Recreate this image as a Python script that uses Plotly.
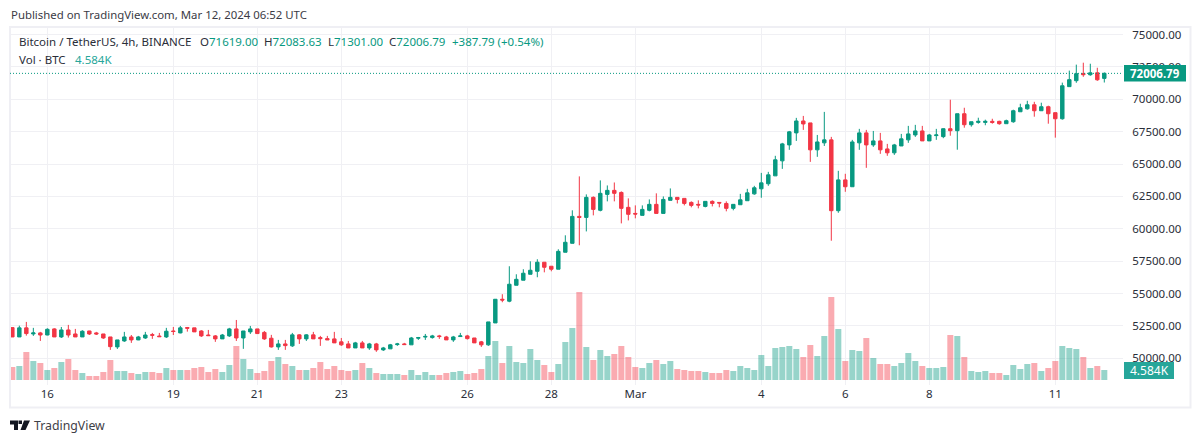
import pandas as pd
import plotly.graph_objects as go

opens = [52370,51650,52350,51880,51960,51800,52270,51650,52190,51880,51650,52110,51960,51880,51650,50880,51340,51650,51420,51570,
 51830,51720,51650,52110,51960,52380,52350,52110,51800,51730,51500,51730,52270,51570,52040,52270,52000,51550,50880,51110,
 50960,51810,51500,51810,51600,51520,51500,51270,51110,50800,51190,50800,51110,50650,50730,51060,51110,51040,51550,51640,
 51600,51730,51650,51420,51680,51730,51570,51270,51040,52730,54560,54410,55640,56030,56490,56720,57420,57110,56880,58190,
 58880,60960,60880,62430,61430,62660,62970,62810,61660,61190,61040,61430,61890,61190,62200,62430,62350,62040,61890,61730,
 62120,62040,61960,61580,61860,62170,62700,63090,63480,64090,65250,66480,67410,68330,68180,66100,66640,66870,61400,63780,
 63250,66640,67410,66480,66790,66170,65870,66400,66870,67250,67560,66790,67200,67120,67730,67580,68890,68040,68220,68220,
 68300,68300,68120,68270,69040,69270,69580,69120,69430,68970,68500,70980,71440,72000,71900,72050,71619]
highs = [52370,52520,52810,52350,52040,52320,52320,52420,52580,52270,52170,52120,52040,51880,51650,51420,52040,51800,51730,52040,
 51960,51960,52350,52420,52500,52420,52350,52170,52190,51800,51880,52350,52960,52110,52500,52270,52110,51810,51420,51420,
 51960,51860,51860,52040,51730,51730,52040,51570,51340,51270,51340,51190,51190,50880,51110,51190,51190,51650,51650,51880,
 51810,51810,51730,51730,51960,51810,51570,51340,52810,54580,54950,57110,56490,56880,57490,57650,57420,57110,58420,59500,
 61430,64050,62660,62500,63740,63350,63580,62890,62350,61810,61810,62270,62740,62500,63120,62430,62350,62120,62200,62120,
 62200,62040,62120,61890,62700,63090,63320,64320,64400,65640,66640,67560,68570,68720,68180,67250,69030,67100,64480,64250,
 66870,67720,67640,67560,67410,66560,66560,67330,67950,68030,67950,67330,67720,67760,69970,68890,69350,68270,68580,68430,
 68500,68350,68430,69200,69660,69890,69810,69740,69510,68970,71290,72220,72680,72830,72750,72440,72083.63]
lows = [51650,51650,51750,51730,51340,51780,51650,51570,51600,51650,51650,51800,51800,51500,50650,50720,51270,51190,51400,51500,
 51500,51650,51570,51800,51930,52060,52040,51650,51750,51270,51500,51650,51340,50730,51880,51880,51420,50830,50650,50650,
 50880,51110,51340,51500,50960,51420,51190,50960,50800,50800,50800,50650,50500,50570,50730,50960,51040,51040,51420,51420,
 51520,51500,51420,51270,51650,51450,51190,50880,50960,52730,54330,54330,55640,56030,56490,56260,56640,56720,56880,58190,
 58880,58730,59800,61040,61350,62120,62120,60420,60650,60810,61040,61350,61190,61190,62200,61960,61810,61660,61580,61660,
 61730,61660,61350,61430,61860,62170,62630,62400,63320,64090,64630,66100,66790,67640,65170,65560,66400,59080,61240,62860,
 63250,66100,64710,66330,65790,65640,65710,66400,66640,67100,66790,66790,66870,67000,67190,66110,67810,67890,68120,68000,
 68120,68040,68120,68190,69040,69200,68660,69120,68120,67040,68430,70980,71280,71740,71820,71430,71301]
closes = [51650,52350,51910,51960,51800,52240,51650,52190,51800,51650,52090,51880,51880,51570,50900,51420,51650,51420,51650,51800,
 51780,51670,52090,52070,52350,52320,52040,51730,51750,51500,51800,52270,51570,52110,52270,51910,51500,50880,51110,50980,
 51810,51500,51810,51500,51520,51420,51190,51040,50800,51190,50800,51110,50650,50800,51040,51110,51060,51570,51600,51690,
 51730,51680,51420,51650,51730,51520,51190,51040,52810,54560,54500,55720,56100,56570,56800,57420,57030,56880,58260,58960,
 60960,60880,62430,61500,62740,62970,62740,61580,61120,61140,61500,61890,61190,62270,62430,62270,61960,61810,61840,62120,
 61960,61990,61580,61890,62240,62780,63170,63550,64170,65330,66560,67490,68330,68100,66100,66710,66870,61400,63780,63250,
 66710,67410,66480,66790,66100,65870,66480,66950,67330,67560,66790,67250,67250,67730,67580,68890,68040,68270,68300,68300,
 68220,68120,68350,69120,69350,69580,69120,69430,68890,68500,71050,71520,71980,71900,72050,71510,72006.79]
volumes_k = [5.96,6.42,12.84,8.71,7.79,4.58,5.50,8.25,9.63,4.58,3.21,1.83,1.83,3.67,9.17,4.13,4.13,3.21,2.75,3.67,
 3.67,3.21,5.50,4.58,4.58,4.58,5.50,5.96,3.67,5.04,3.67,6.88,15.59,9.63,5.04,3.21,4.13,8.71,10.54,7.33,
 6.42,4.58,4.58,5.50,8.25,5.04,6.42,4.58,4.13,4.58,7.79,5.50,3.21,2.75,2.75,2.75,2.29,4.58,2.29,3.67,
 2.29,2.29,3.21,3.67,4.13,2.75,3.21,5.04,11.0,17.88,7.79,15.59,8.25,7.79,14.21,9.17,6.88,3.67,7.33,17.42,
 23.84,40.34,15.13,9.17,13.75,11.0,11.92,15.59,10.54,5.96,5.50,7.79,9.17,7.33,8.71,5.04,4.58,4.13,4.13,3.67,
 3.21,3.21,4.58,4.13,6.42,5.50,4.58,11.46,6.42,14.67,15.13,15.59,14.21,10.54,16.04,11.0,20.17,38.05,23.38,8.71,
 13.75,13.29,19.25,10.08,7.33,7.33,6.42,7.79,12.38,8.71,6.42,5.50,5.50,5.96,20.63,20.17,10.54,4.13,3.67,4.13,
 3.21,3.21,2.29,6.88,5.04,7.33,7.79,4.13,5.50,8.71,15.59,14.67,14.21,10.54,5.50,6.42,4.584]
dates = pd.date_range("2024-02-15 04:00", periods=len(closes), freq="4h")

price_ticks = [75000,72500,70000,67500,65000,62500,60000,57500,55000,52500,50000]
price_tick_text = [f"{p}.00" for p in price_ticks]
date_ticks = ["2024-02-16","2024-02-19","2024-02-21","2024-02-23","2024-02-26","2024-02-28",
              "2024-03-01","2024-03-04","2024-03-06","2024-03-08","2024-03-11"]
date_tick_text = ["16","19","21","23","26","28","Mar","4","6","8","11"]
last_price = 72006.79
last_volume = 4.584

UP, DOWN = "#089981", "#F23645"
UP_V, DOWN_V = "rgba(8,153,129,0.42)", "rgba(242,54,69,0.42)"
GRID = "#F0F0F4"
FRAME = "#EFEFF4"
FONT = "Noto Sans"
W, H = 1200, 443
L, R, T, B = 10, 77, 28, 58

def px(x): return (x - L) / (W - L - R)
def py(y): return 1 - (y - T) / (H - T - B)

fig = go.Figure()
fig.add_bar(x=dates, y=volumes_k, yaxis="y", showlegend=False, hoverinfo="skip",
            marker=dict(color=[UP_V if c >= o else DOWN_V for o, c in zip(opens, closes)], line_width=0))
fig.add_candlestick(x=dates, open=opens, high=highs, low=lows, close=closes, yaxis="y2", showlegend=False,
                    whiskerwidth=0,
                    increasing=dict(line=dict(color=UP, width=1), fillcolor=UP),
                    decreasing=dict(line=dict(color=DOWN, width=1), fillcolor=DOWN))

fig.update_layout(
    width=W, height=H, margin=dict(l=L, r=R, t=T, b=B, pad=0),
    paper_bgcolor="white", plot_bgcolor="white", bargap=0.14,
    font=dict(family=FONT, size=12, color="#131722"),
    xaxis=dict(type="date", range=["2024-02-15 02:40", "2024-03-12 14:41"], rangeslider=dict(visible=False),
               tickvals=date_ticks, ticktext=date_tick_text, tickangle=0, showgrid=True, gridcolor=GRID, gridwidth=1,
               zeroline=False, showline=False, ticks="", tickfont=dict(size=11.5, color="#2a2e39")),
    yaxis=dict(range=[-2.29, 161.4], visible=False, showgrid=False, zeroline=False),
    yaxis2=dict(overlaying="y", side="right", range=[47938, 75510], tickvals=price_ticks, ticktext=price_tick_text,
                showgrid=True, gridcolor=GRID, gridwidth=1, zeroline=False, showline=False, ticks="outside",
                ticklen=6, tickcolor="rgba(0,0,0,0)", tickfont=dict(size=11.5, color="#2a2e39")),
)

def note(x, y, text, color="#131722", size=11.5, **kw):
    fig.add_annotation(xref="paper", yref="paper", x=px(x), y=py(y), text=text, showarrow=False,
                       xanchor=kw.pop("xanchor", "left"), yanchor="middle", align="left",
                       font=dict(size=size, color=color, family=FONT), **kw)

# frame
fig.add_shape(type="rect", xref="paper", yref="paper", x0=px(10), x1=px(1190.5), y0=py(407.5), y1=py(27),
              line=dict(color=FRAME, width=2), fillcolor="rgba(0,0,0,0)", layer="above")
# last-price line
fig.add_shape(type="line", xref="paper", yref="y2", x0=0, x1=1, y0=last_price, y1=last_price,
              line=dict(color=UP, width=1, dash="1px,2px"), layer="above")
# axis tags
fig.add_shape(type="rect", xref="paper", yref="paper", x0=px(1124), x1=px(1186), y0=py(81.5), y1=py(65),
              fillcolor=UP, line_width=0, layer="above")
fig.add_shape(type="rect", xref="paper", yref="paper", x0=px(1124), x1=px(1174), y0=py(379), y1=py(362),
              fillcolor="#26A69A", line_width=0, layer="above")
note(1155, 73.5, f"<b>{last_price:.2f}</b>", "#FFFFFF", 11.5, xanchor="center")
note(1149, 370.5, f"{last_volume:.3f}K", "#FFFFFF", 12, xanchor="center")

note(8.5, 15, "Published on TradingView.com, Mar 12, 2024 06:52 UTC", "#3b3b45", 11.4)
note(16.5, 41.5, "Bitcoin / TetherUS, 4h, BINANCE", "#2a2e39", 11.5)
for x, lab, val in [(197.5, "O", "71619.00"), (261.5, "H", "72083.63"), (325.5, "L", "71301.00"), (387, "C", "72006.79")]:
    note(x, 41.5, f'<span style="color:#2a2e39">{lab}</span>{val}', UP, 11.5)
note(449.5, 41.5, "+387.79 (+0.54%)", UP, 11.5)
note(16.5, 59, "Vol · BTC", "#2a2e39", 11.5)
note(72.5, 59, "4.584K", "#26A69A", 11.5)
note(31.5, 425, "TradingView", "#3f4148", 12.3)

# logo
def poly(points, color="#131722"):
    d = "M" + " L".join(f"{px(a)},{py(b)}" for a, b in points) + " Z"
    fig.add_shape(type="path", xref="paper", yref="paper", path=d, fillcolor=color, line_width=0, layer="above")
poly([(10, 420.5), (18, 420.5), (18, 430), (14, 430), (14, 424.5), (10, 424.5)])
poly([(18.5, 420.5), (22, 420.5), (22, 424), (18.5, 424)])
poly([(24, 420.5), (30, 420.5), (25.5, 430), (20.5, 430)])

fig.write_html("out.html", config=dict(displayModeBar=False),
               post_script="document.body.style.margin='0';document.body.style.overflow='hidden';")
